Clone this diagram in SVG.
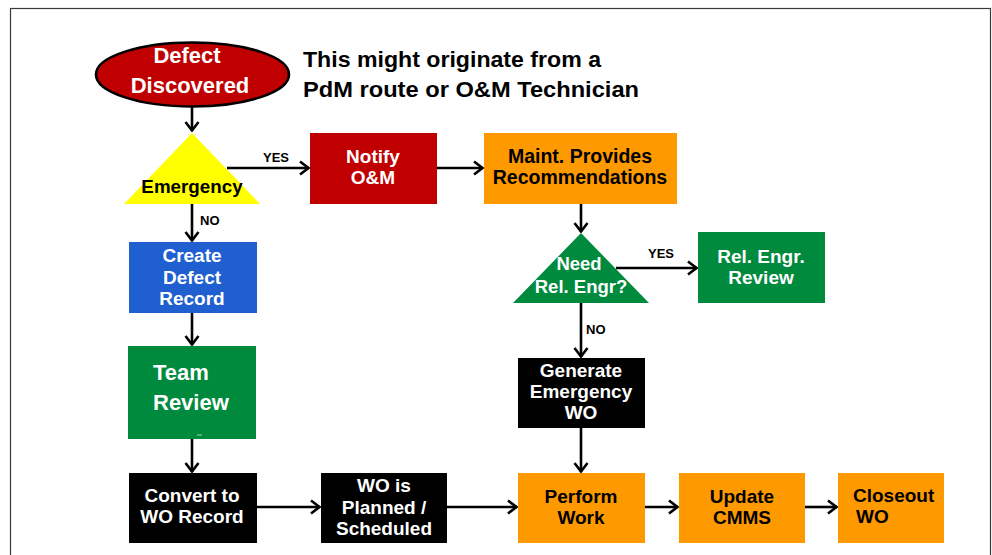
<svg xmlns="http://www.w3.org/2000/svg" width="992" height="555" viewBox="0 0 992 555">
  <defs>
    <marker id="chev" viewBox="0 0 12 16" refX="11" refY="8" markerWidth="12" markerHeight="16" markerUnits="userSpaceOnUse" orient="auto">
      <path d="M2,1.5 L10.5,8 L2,14.5" fill="none" stroke="#000" stroke-width="2.6" stroke-linejoin="miter"/>
    </marker>
    <style>
      text { font-family: "Liberation Sans", Arial, sans-serif; font-weight: bold; }
      .w { fill: #fff; font-size: 19px; text-anchor: middle; }
      .k { fill: #000; font-size: 19px; text-anchor: middle; }
      .lbl { fill: #000; font-size: 13px; }
      .note { fill: #000; font-size: 22px; }
      .conn line { stroke: #000; stroke-width: 2.6; marker-end: url(#chev); }
      .red { fill: #c00000; }
      .orange { fill: #ff9900; }
      .green { fill: #008a3e; }
      .blue { fill: #1f5fcf; }
      .black { fill: #000; }
    </style>
  </defs>

  <rect width="992" height="555" fill="#fff"/>
  <!-- outer frame -->
  <rect x="10.5" y="8.5" width="980" height="570" fill="none" stroke="#3a3a3a" stroke-width="1.2"/>

  <!-- start -->
  <g id="defect-discovered">
    <ellipse cx="192.5" cy="74.5" rx="96.5" ry="32" fill="#c00000" stroke="#000" stroke-width="2.6"/>
    <text class="w" x="187" y="63" style="font-size:22px">Defect</text>
    <text class="w" x="190" y="93" style="font-size:22px">Discovered</text>
  </g>

  <g id="note">
    <text class="note" x="303" y="67" textLength="298" lengthAdjust="spacingAndGlyphs">This might originate from a</text>
    <text class="note" x="303" y="97" textLength="336" lengthAdjust="spacingAndGlyphs">PdM route or O&amp;M Technician</text>
  </g>

  <g id="emergency">
    <polygon points="192,133 260,204 124,204" fill="#ffff00"/>
    <text class="k" x="192" y="193" style="font-size:18.8px">Emergency</text>
  </g>

  <g id="notify-om">
    <rect class="red" x="310" y="133" width="127" height="71"/>
    <text class="w" x="373" y="163">Notify</text>
    <text class="w" x="373" y="184">O&amp;M</text>
  </g>

  <g id="maint-recommendations">
    <rect class="orange" x="484" y="133" width="193" height="71"/>
    <text class="k" x="580" y="163" style="font-size:19.5px">Maint. Provides</text>
    <text class="k" x="580" y="184" style="font-size:19.5px">Recommendations</text>
  </g>

  <g id="need-rel-engr">
    <polygon points="581,233 649,303 513,303" fill="#008a3e"/>
    <text class="w" x="579" y="270" style="font-size:18.5px">Need</text>
    <text class="w" x="581" y="293" style="font-size:18.5px">Rel. Engr?</text>
  </g>

  <g id="rel-engr-review">
    <rect class="green" x="698" y="232" width="127" height="71"/>
    <text class="w" x="761" y="263">Rel. Engr.</text>
    <text class="w" x="761" y="284">Review</text>
  </g>

  <g id="create-defect-record">
    <rect class="blue" x="129" y="242" width="128" height="71"/>
    <text class="w" x="192" y="262">Create</text>
    <text class="w" x="192" y="284">Defect</text>
    <text class="w" x="192" y="305">Record</text>
  </g>

  <g id="team-review">
    <rect class="green" x="128" y="346" width="128" height="93"/>
    <text class="w" x="153" y="380" style="font-size:22px;text-anchor:start">Team</text>
    <text class="w" x="153" y="410" style="font-size:22px;text-anchor:start">Review</text>
    <rect x="197" y="434.5" width="5" height="1" fill="#9fd8b0"/>
  </g>

  <g id="generate-emergency-wo">
    <rect class="black" x="518" y="358" width="127" height="70"/>
    <text class="w" x="581" y="377">Generate</text>
    <text class="w" x="581" y="398">Emergency</text>
    <text class="w" x="581" y="419">WO</text>
  </g>

  <g id="convert-to-wo">
    <rect class="black" x="129" y="473" width="128" height="70"/>
    <text class="w" x="192" y="502">Convert to</text>
    <text class="w" x="192" y="523">WO Record</text>
  </g>

  <g id="wo-planned">
    <rect class="black" x="321" y="473" width="126" height="70"/>
    <text class="w" x="384" y="492">WO is</text>
    <text class="w" x="384" y="514">Planned /</text>
    <text class="w" x="384" y="535">Scheduled</text>
  </g>

  <g id="perform-work">
    <rect class="orange" x="518" y="473" width="127" height="70"/>
    <text class="k" x="581" y="503">Perform</text>
    <text class="k" x="581" y="524">Work</text>
  </g>

  <g id="update-cmms">
    <rect class="orange" x="679" y="473" width="126" height="70"/>
    <text class="k" x="742" y="503">Update</text>
    <text class="k" x="742" y="524">CMMS</text>
  </g>

  <g id="closeout-wo">
    <rect class="orange" x="838" y="473" width="106" height="70"/>
    <text class="k" x="853" y="502" style="text-anchor:start">Closeout</text>
    <text class="k" x="856" y="523" style="text-anchor:start">WO</text>
  </g>

  <!-- connectors -->
  <g id="connectors" class="conn">
    <line x1="192" y1="107" x2="192" y2="131"/>
    <line x1="227" y1="168" x2="309" y2="168"/>
    <line x1="192" y1="204" x2="192" y2="241"/>
    <line x1="437" y1="168" x2="483" y2="168"/>
    <line x1="581" y1="204" x2="581" y2="232"/>
    <line x1="616" y1="268" x2="697" y2="268"/>
    <line x1="581" y1="303" x2="581" y2="357"/>
    <line x1="192" y1="313" x2="192" y2="345"/>
    <line x1="192" y1="439" x2="192" y2="472"/>
    <line x1="581" y1="428" x2="581" y2="472"/>
    <line x1="257" y1="507" x2="320" y2="507"/>
    <line x1="447" y1="507" x2="517" y2="507"/>
    <line x1="645" y1="507" x2="678" y2="507"/>
    <line x1="805" y1="507" x2="837" y2="507"/>
  </g>

  <g id="branch-labels">
    <text class="lbl" x="263" y="162">YES</text>
    <text class="lbl" x="200" y="225">NO</text>
    <text class="lbl" x="648" y="258">YES</text>
    <text class="lbl" x="586" y="334">NO</text>
  </g>
</svg>
